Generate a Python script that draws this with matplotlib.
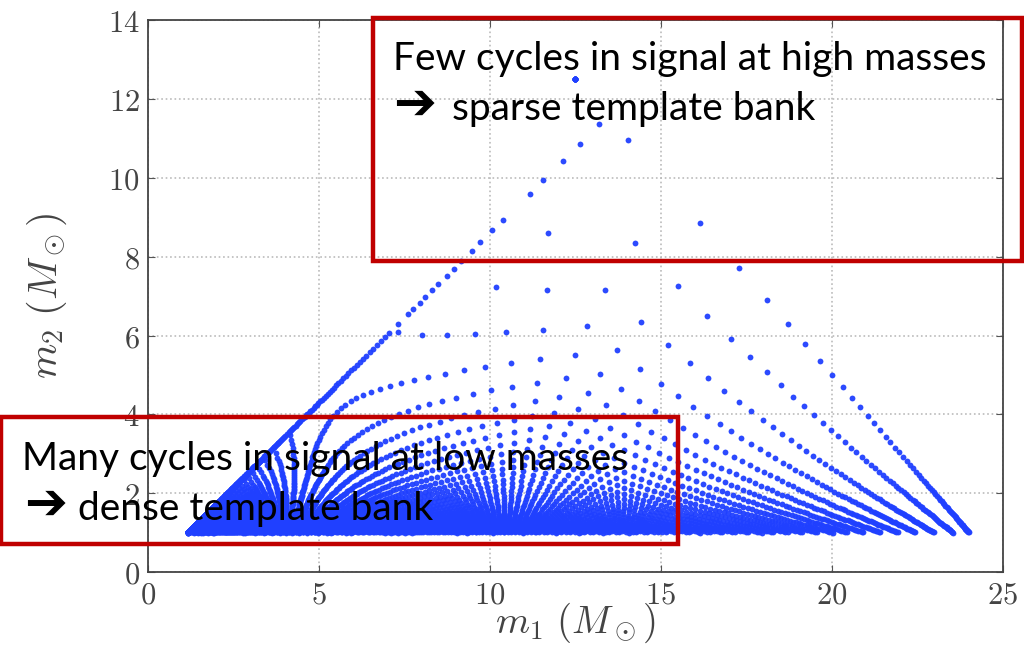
import numpy as np
import matplotlib.pyplot as plt
from matplotlib.patches import Rectangle
from matplotlib.ticker import FuncFormatter

plt.rcParams['mathtext.fontset'] = 'cm'

# bank limits
m_min = 1.0
M_max = 25.0
eta_edge = 0.2486   # templates on the near-equal-mass side sit at this eta

# three neighbouring templates in the sparse corner fix the placement lattice
anchor = (14.25, 8.34)
row_next = (11.7, 8.6)
fan_next = (15.4, 7.28)
snap = 0.055        # lattice points this close outside an edge are moved onto it

xticks = [0, 5, 10, 15, 20, 25]
yticks = [0, 2, 4, 6, 8, 10, 12, 14]


def to_tau(m1, m2):
    M = m1 + m2
    eta = m1 * m2 / M**2
    return np.array([M**(-5 / 3) / eta, M**(-2 / 3) / eta])


def to_mass(M, eta):
    s = np.sqrt(np.clip(1 - 4 * eta, 0, None))
    return M / 2 * (1 + s), M / 2 * (1 - s)


# lattice in (tau0, tau3); the fan direction runs parallel to the M = M_max edge
p0 = to_tau(*anchor)
a = to_tau(*row_next) - p0
d0 = to_tau(*fan_next)[0] - p0[0]
d = np.array([d0, M_max * d0])
Binv = np.linalg.inv(np.column_stack([a, d]))
box = np.array([[0.015, 0.4], [0.015, 3.2], [1.3, 0.4], [1.3, 3.2]]) - p0
ij = box @ Binv.T
i = np.arange(np.floor(ij[:, 0].min()), np.ceil(ij[:, 0].max()) + 1)
j = np.arange(np.floor(ij[:, 1].min()), np.ceil(ij[:, 1].max()) + 1)
I, J = np.meshgrid(i, j)
t0 = p0[0] + I.ravel() * a[0] + J.ravel() * d[0]
t3 = p0[1] + I.ravel() * a[1] + J.ravel() * d[1]
keep = t0 > 0.005
t0, t3 = t0[keep], t3[keep]

M = t3 / t0
eta = M**(-5 / 3) / t0
t3_edge = eta_edge**(-3 / 5) * t0**(2 / 5)

inside = (eta <= eta_edge) & (M <= M_max)
m1, m2 = to_mass(M[inside], eta[inside])
ok = m2 >= m_min
x_pts = [m1[ok]]
y_pts = [m2[ok]]

# points just past the total-mass edge go onto M = M_max
near_M = (M > M_max) & (t3 - M_max * t0 < snap)
eta_M = np.minimum(M_max**(-5 / 3) / t0[near_M], 0.25)
m1, m2 = to_mass(np.full(eta_M.shape, M_max), eta_M)
ok = m2 >= m_min
x_pts.append(m1[ok])
y_pts.append(m2[ok])

# points just past the equal-mass edge go onto eta = eta_edge
near_e = (t3 < t3_edge) & (t3_edge - t3 < snap)
M_e = (eta_edge * t0[near_e])**(-3 / 5)
m1, m2 = to_mass(M_e, np.full(M_e.shape, eta_edge))
ok = (M_e <= M_max) & (m2 >= m_min)
x_pts.append(m1[ok])
y_pts.append(m2[ok])

m1_all = np.concatenate(x_pts)
m2_all = np.concatenate(y_pts)

fig = plt.figure(figsize=(10.24, 6.53), dpi=100)
ax = fig.add_axes([0.1445, 0.124, 0.835, 0.845])
ax.plot(m1_all, m2_all, 'o', color='#2040ff', ms=4.2, mew=0, alpha=0.95)

ax.set_xlim(0, 25)
ax.set_ylim(0, 14)
ax.set_xticks(xticks)
ax.set_yticks(yticks)
fmt = FuncFormatter(lambda v, p: f'${v:g}$')
ax.xaxis.set_major_formatter(fmt)
ax.yaxis.set_major_formatter(fmt)
ax.tick_params(direction='in', top=True, right=True, labelsize=22,
               labelcolor='#444444', color='#555555', length=5, pad=6)
ax.grid(True, linestyle=':', color='#bbbbbb', linewidth=1.2)
for s in ax.spines.values():
    s.set_color('#444444')
    s.set_linewidth(1.3)
ax.set_xlabel(r'$m_1\ (M_\odot)$', fontsize=28, color='#444444', labelpad=-6)
ax.set_ylabel(r'$m_2\ (M_\odot)$', fontsize=29, color='#444444', labelpad=28)

font = ['Lato', 'DejaVu Sans']
red = '#c00000'
fig.patches.append(Rectangle((0.3643, 0.6003), 0.6338, 0.3721, transform=fig.transFigure,
                             fill=False, edgecolor=red, linewidth=3.2))
fig.patches.append(Rectangle((0.001, 0.1669), 0.661, 0.1945, transform=fig.transFigure,
                             fill=False, edgecolor=red, linewidth=3.2))

notes = [
    (0.3838, 0.8928, None, 'Few cycles in signal at high masses'),
    (0.3838, 0.8162, 0.4414, 'sparse template bank'),
    (0.0215, 0.2802, None, 'Many cycles in signal at low masses'),
    (0.0235, 0.2037, 0.0762, 'dense template bank'),
]
for x, y, x_text, s in notes:
    if x_text is None:
        fig.text(x, y, s, family=font, fontsize=28, va='baseline')
    else:
        fig.text(x, y + 0.002, '\u2794', family='DejaVu Sans', fontsize=37,
                 fontweight='bold', va='baseline')
        fig.text(x_text, y, s, family=font, fontsize=28, va='baseline')

fig.savefig('out.png', dpi=100)
